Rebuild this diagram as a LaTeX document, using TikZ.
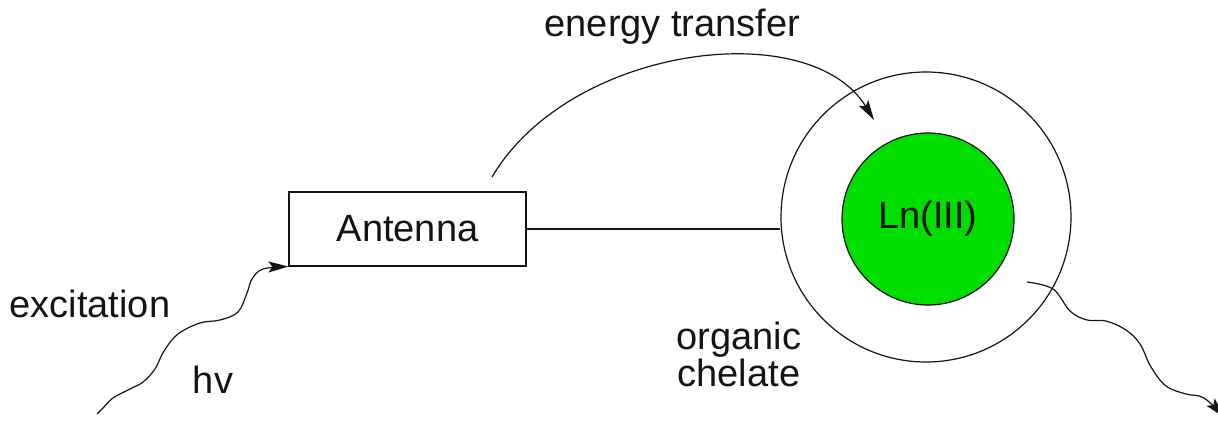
\documentclass[tikz,border=0pt]{standalone}
\usepackage{fontspec}
\setmainfont{Liberation Sans}
\usetikzlibrary{arrows.meta}
\definecolor{lngreen}{RGB}{0,222,0}
\definecolor{inkgray}{RGB}{20,20,20}
\begin{document}
\begin{tikzpicture}[x=1pt,y=-1pt,
  every node/.style={text=inkgray, font=\fontsize{38}{38}\selectfont},
  conn/.style={draw=inkgray, line width=1.2pt},
  arr/.style={conn, -{Stealth[length=20pt,width=11pt,inset=4pt]}},
  boxnode/.style={draw=inkgray, line width=1.2pt, rectangle, minimum width=237pt, minimum height=74pt, inner sep=0pt},
  ringnode/.style={draw=inkgray, line width=1.2pt, circle, minimum size=290pt, inner sep=0pt},
  corenode/.style={draw=inkgray, line width=1.2pt, circle, fill=lngreen, minimum size=172pt, inner sep=0pt},
  lbl/.style={anchor=base, inner sep=0pt}]
\useasboundingbox (0,0) rectangle (1218,427);
\fill[white] (0,0) rectangle (1218,427);

\node[boxnode] (antenna) at (407.5,229) {Antenna};
\node[ringnode] (outer) at (926,217) {};
\node[corenode] (ln) at (928,219) {Ln(III)};

\node[lbl] (etlabel) at (672.5,37) {energy transfer};
\node[lbl] (exlabel) at (90,318) {excitation};
\node[lbl] (hvlabel) at (213,393) {hv};
\node[lbl] (organic) at (739,350) {organic};
\node[lbl] (chelate) at (739,387) {chelate};

\coordinate (etstart) at (492,177);
\coordinate (etend) at (874,120);
\coordinate (exstart) at (97,414);
\coordinate (emstart) at (1027,282);
\coordinate (emend) at (1224,417);

% link between antenna and chelate
\draw[conn] (antenna.east) -- (outer.west |- antenna.east);

% energy transfer
\draw[arr] (etstart) .. controls (570,45) and (810,15) .. (etend);

% excitation (hv)
\draw[arr] plot[smooth, tension=0.6] coordinates {(exstart) (103,408) (113,398) (130,389) (143,382) (155,369) (164,351) (178,334) (200,323) (220,320) (238,312) (247,293) (252,279) (263,269) (antenna.south west)};

% emission
\draw[arr] plot[smooth, tension=0.6] coordinates {(emstart) (1053,289) (1070,311) (1087,320) (1106,321) (1126,330) (1140,344) (1151,367) (1166,386) (1186,394) (1204,398) (emend)};
\end{tikzpicture}
\end{document}
